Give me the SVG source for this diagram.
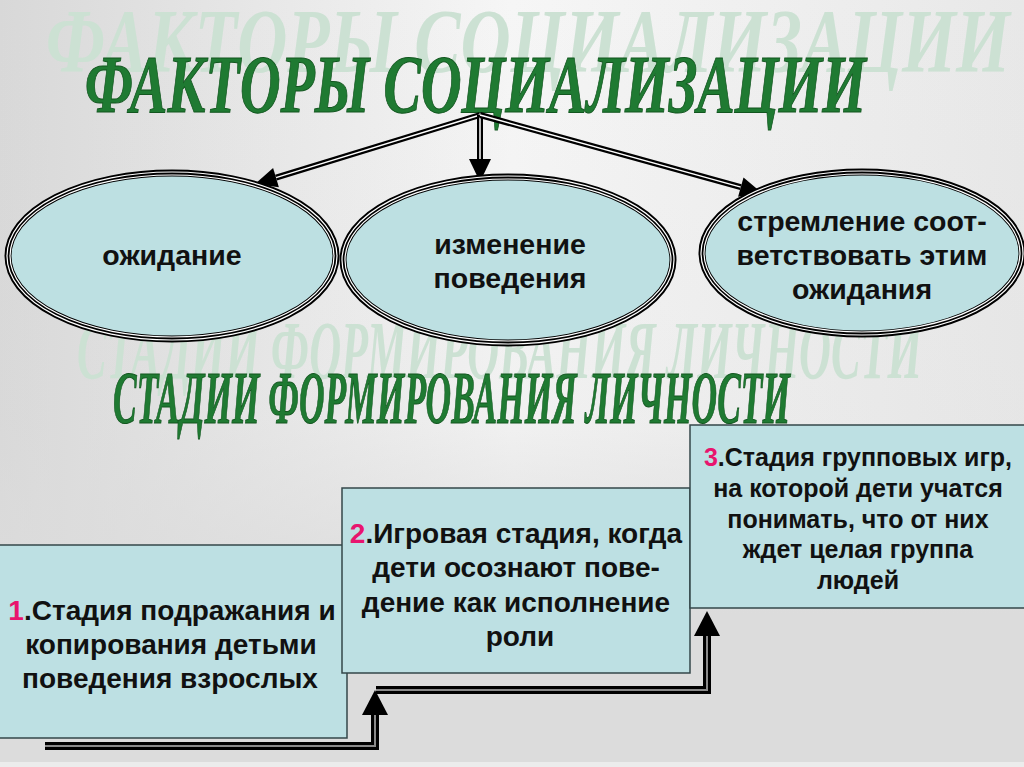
<svg xmlns="http://www.w3.org/2000/svg" width="1024" height="767" viewBox="0 0 1024 767">
<defs>
<linearGradient id="bgH" x1="0" y1="0" x2="1" y2="0">
<stop offset="0" stop-color="#d8d8d8"/>
<stop offset="0.5" stop-color="#f6f6f6"/>
<stop offset="1" stop-color="#e8e8e8"/>
</linearGradient>
<linearGradient id="bgV" x1="0" y1="0" x2="0" y2="1">
<stop offset="0" stop-color="#dcdcdc" stop-opacity="0"/>
<stop offset="0.55" stop-color="#dcdcdc" stop-opacity="0.2"/>
<stop offset="0.8" stop-color="#dcdcdc" stop-opacity="1"/>
<stop offset="1" stop-color="#dcdcdc" stop-opacity="1"/>
</linearGradient>
<style>
.shadow{font-family:"Liberation Serif",serif;font-weight:bold;font-style:italic;fill:#cce1d3;}
.title{font-family:"Liberation Serif",serif;font-weight:bold;font-style:italic;fill:#1f7a32;stroke:#12561f;stroke-width:1;}
.ell{fill:#bde0e2;stroke:#000;stroke-width:7;}
.ellw{fill:none;stroke:#fff;stroke-width:1.2;}
.etxt{font-family:"Liberation Sans",Arial,sans-serif;font-weight:bold;font-size:28.5px;fill:#111;text-anchor:middle;}
.box{fill:#bde0e3;stroke:#34474a;stroke-width:1.5;}
.btxt{font-family:"Liberation Sans",Arial,sans-serif;font-weight:bold;font-size:28px;fill:#111;text-anchor:middle;}
.btxt3{font-family:"Liberation Sans",Arial,sans-serif;font-weight:bold;font-size:25px;fill:#111;text-anchor:middle;}
.num{fill:#e8156e;}
.lnB{fill:none;stroke:#000;stroke-width:6;}
.lnW{fill:none;stroke:#fff;stroke-width:1.5;}
.lnB2{fill:none;stroke:#000;stroke-width:8;}
.lnG{fill:none;stroke:#8a8a8a;stroke-width:2;}
.head{fill:#000;}
</style>
</defs>
<rect width="1024" height="767" fill="url(#bgH)"/>
<rect width="1024" height="767" fill="url(#bgV)"/>
<rect y="762" width="1024" height="5" fill="#ececec"/>

<g id="titles">
<text class="shadow" x="46" y="72" font-size="90" textLength="964" lengthAdjust="spacingAndGlyphs">ФАКТОРЫ СОЦИАЛИЗАЦИИ</text>
<text class="title" x="85" y="112" font-size="82" textLength="781" lengthAdjust="spacingAndGlyphs">ФАКТОРЫ СОЦИАЛИЗАЦИИ</text>
<text class="shadow" x="77" y="378" font-size="82" textLength="845" lengthAdjust="spacingAndGlyphs">СТАДИИ ФОРМИРОВАНИЯ ЛИЧНОСТИ</text>
</g>

<g id="connectors">
<path class="lnB" d="M480,115 L276,177.6"/>
<path class="lnW" d="M480,115 L276,177.6"/>
<polygon class="head" points="255,184 278.9,187.2 273.1,168"/>
<path class="lnB" d="M480,115 V160"/>
<path class="lnW" d="M480,117 V160"/>
<polygon class="head" points="480,182 469,159 491,159"/>
<path class="lnB" d="M480,115 L740.8,187.1"/>
<path class="lnW" d="M480,115 L740.8,187.1"/>
<polygon class="head" points="762,193 738.1,196.7 743.5,177.5"/>
</g>

<g id="node-ozhidanie">
<ellipse class="ell" cx="172" cy="256" rx="164" ry="83"/>
<ellipse class="ellw" cx="172" cy="256" rx="165" ry="84"/>
<ellipse class="ellw" cx="172" cy="256" rx="162" ry="81"/>
<text class="etxt" x="172" y="265">ожидание</text>
</g>
<g id="node-izmenenie">
<ellipse class="ell" cx="508" cy="260" rx="165" ry="83"/>
<ellipse class="ellw" cx="508" cy="260" rx="166" ry="84"/>
<ellipse class="ellw" cx="508" cy="260" rx="163" ry="81"/>
<text class="etxt" x="510" y="254">изменение</text>
<text class="etxt" x="510" y="288">поведения</text>
</g>
<g id="node-stremlenie">
<ellipse class="ell" cx="862" cy="253" rx="160" ry="81"/>
<ellipse class="ellw" cx="862" cy="253" rx="161" ry="82"/>
<ellipse class="ellw" cx="862" cy="253" rx="158" ry="79"/>
<text class="etxt" x="862" y="231">стремление соот-</text>
<text class="etxt" x="862" y="265">ветствовать этим</text>
<text class="etxt" x="862" y="299">ожидания</text>
</g>

<g id="title-stages">
<text class="title" x="113" y="423" font-size="74" textLength="677" lengthAdjust="spacingAndGlyphs">СТАДИИ ФОРМИРОВАНИЯ ЛИЧНОСТИ</text>
</g>

<g id="stage-1">
<rect class="box" x="-2" y="545" width="349" height="193"/>
<text class="btxt" x="172" y="620"><tspan class="num">1</tspan>.Стадия подражания и</text>
<text class="btxt" x="171" y="654">копирования детьми</text>
<text class="btxt" x="170" y="688">поведения взрослых</text>
</g>
<g id="stage-2">
<rect class="box" x="342" y="488" width="348" height="185"/>
<text class="btxt" x="516" y="543"><tspan class="num">2</tspan>.Игровая стадия, когда</text>
<text class="btxt" x="516" y="577">дети осознают пове-</text>
<text class="btxt" x="516" y="612">дение как исполнение</text>
<text class="btxt" x="520" y="646">роли</text>
</g>
<g id="stage-3">
<rect class="box" x="690" y="425" width="340" height="183"/>
<text class="btxt3" x="858" y="466"><tspan class="num">3</tspan>.Стадия групповых игр,</text>
<text class="btxt3" x="858" y="497">на которой дети учатся</text>
<text class="btxt3" x="858" y="528">понимать, что от них</text>
<text class="btxt3" x="858" y="558">ждет целая группа</text>
<text class="btxt3" x="858" y="589">людей</text>
</g>

<g id="stage-connectors">
<path class="lnB2" d="M45,746 H375 V713"/>
<path class="lnG" d="M45,746 H375 V713"/>
<polygon class="head" points="375,690 362,715 388,715"/>
<path class="lnB2" d="M376,690 H707 V634"/>
<path class="lnG" d="M376,690 H707 V634"/>
<polygon class="head" points="707,611 694,636 720,636"/>
</g>
</svg>
